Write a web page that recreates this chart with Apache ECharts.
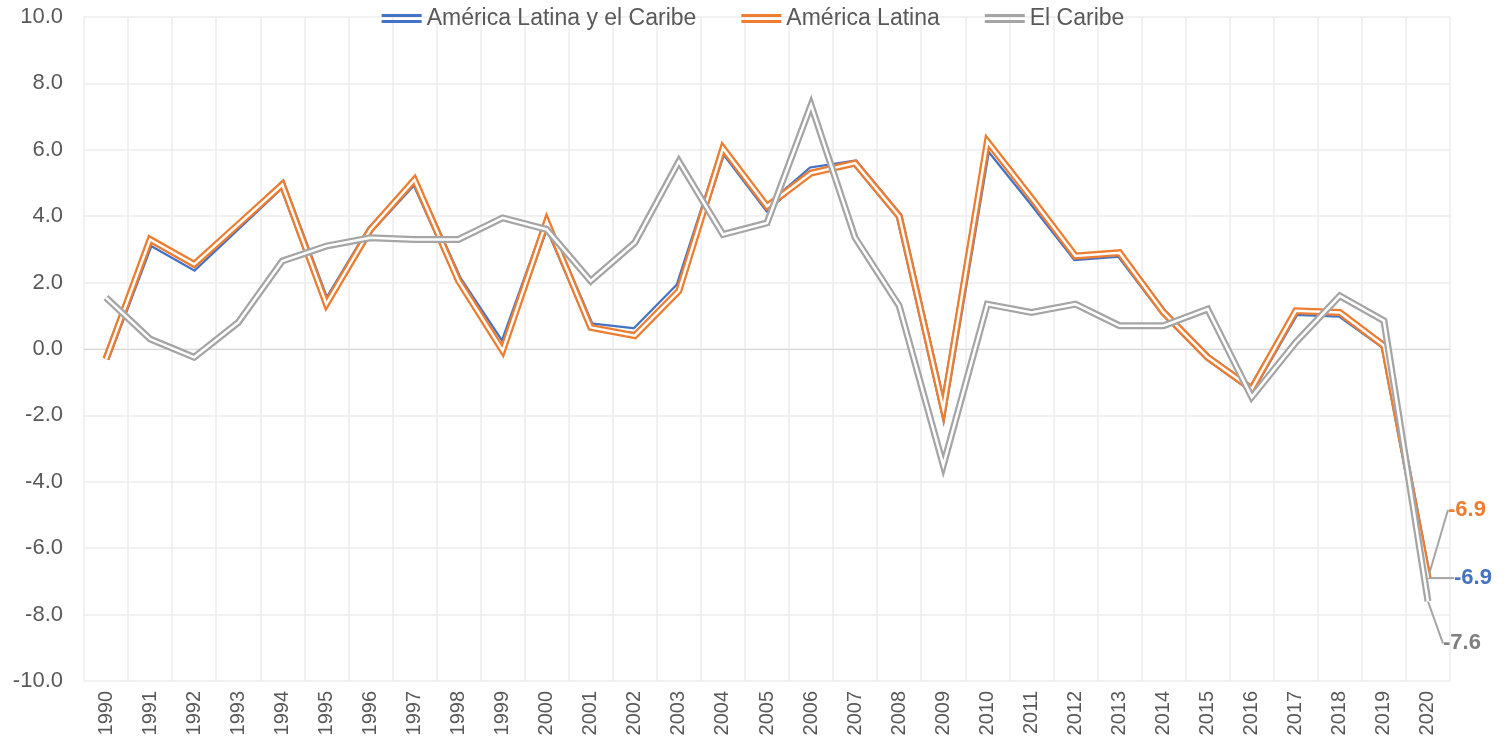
<!DOCTYPE html>
<html>
<head>
<meta charset="utf-8">
<script src="https://cdn.jsdelivr.net/npm/echarts@6/dist/echarts.min.js"></script>
<style>
  html, body { margin: 0; padding: 0; background: #fff; }
  #chart { width: 1506px; height: 749px; }
</style>
</head>
<body>
<div id="chart"></div>
<script>
var years = ['1990','1991','1992','1993','1994','1995','1996','1997','1998','1999',
    '2000','2001','2002','2003','2004','2005','2006','2007','2008','2009',
    '2010','2011','2012','2013','2014','2015','2016','2017','2018','2019','2020'];

var alc = [-0.3, 3.2, 2.45, 3.7, 4.95, 1.4, 3.6, 5.05, 2.1, 0.1,
    3.8, 0.7, 0.55, 1.9, 6.0, 4.25, 5.4, 5.6, 4.0, -1.8,
    6.1, 4.45, 2.75, 2.85, 1.1, -0.25, -1.2, 1.1, 1.05, 0.1, -6.9];
var al = [-0.3, 3.3, 2.55, 3.75, 4.95, 1.35, 3.6, 5.1, 2.05, -0.05,
    3.85, 0.65, 0.4, 1.75, 6.05, 4.3, 5.3, 5.6, 4.0, -1.8,
    6.25, 4.55, 2.8, 2.9, 1.1, -0.25, -1.2, 1.15, 1.1, 0.1, -6.9];
var caribe = [1.55, 0.3, -0.25, 0.8, 2.65, 3.1, 3.35, 3.3, 3.3, 3.95,
    3.6, 2.05, 3.2, 5.65, 3.45, 3.8, 7.35, 3.35, 1.3, -3.5,
    1.35, 1.1, 1.35, 0.7, 0.7, 1.2, -1.45, 0.2, 1.6, 0.85, -7.6];

var NAMES = ['América Latina y el Caribe', 'América Latina', 'El Caribe'];
var COLORS = ['#4472c4', '#ed7d31', '#a5a5a5'];
var FONT = 'Liberation Sans';

function mk_label(color)
{
    return {
        show: true,
        position: 'right',
        formatter: '{c}',
        color: color,
        fontWeight: 'bold',
        fontSize: 22,
        fontFamily: FONT,
        padding: [0, 0, 0, 7]
    };
}

function mk_series(i, data, dx, dy)
{
    var last = data.length - 1;
    var pts = data.map(function (v, k) {
        if (k !== last) {
            return v;
        }
        return {
            value: v,
            label: mk_label(i === 2 ? '#7f7f7f' : COLORS[i]),
            labelLine: { show: true, lineStyle: { color: '#a5a5a5', width: 2 } }
        };
    });
    var outer = {
        name: NAMES[i],
        type: 'line',
        data: pts,
        symbol: 'circle',
        symbolSize: 0,
        showSymbol: true,
        itemStyle: { color: COLORS[i] },
        lineStyle: { color: COLORS[i], width: 7, join: 'miter', miterLimit: 20 },
        label: { show: false },
        labelLayout: { dx: dx, dy: dy },
        z: 2 + i * 2,
        animation: false
    };
    var inner = {
        name: NAMES[i] + '_gap',
        type: 'line',
        data: data,
        symbol: 'none',
        silent: true,
        lineStyle: { color: '#ffffff', width: 2.5, join: 'miter', miterLimit: 20 },
        z: 3 + i * 2,
        animation: false
    };
    return [outer, inner];
}

var chart = echarts.init(document.getElementById('chart'));

var series = [].concat(
    mk_series(0, alc, 14, 0),
    mk_series(1, al, 8, -68),
    mk_series(2, caribe, 3, 42)
);

var option = {
    backgroundColor: '#ffffff',
    textStyle: { fontFamily: FONT },
    legend: {
        data: NAMES,
        top: 2,
        left: 'center',
        itemWidth: 40,
        itemHeight: 9,
        itemGap: 45,
        icon: 'path://M0,0H40V3H0Z M0,6H40V9H0Z',
        textStyle: { color: '#595959', fontSize: 23, fontFamily: FONT }
    },
    grid: { left: 84, right: 56, top: 17, bottom: 68, containLabel: false },
    xAxis: {
        type: 'category',
        data: years,
        boundaryGap: true,
        axisLine: { lineStyle: { color: '#d9d9d9' } },
        axisTick: { show: false },
        axisLabel: {
            rotate: 90,
            color: '#595959',
            fontSize: 20,
            fontFamily: FONT,
            interval: 0,
            margin: 10
        },
        splitLine: { show: true, interval: 0, lineStyle: { color: '#ececec', width: 1.5 } }
    },
    yAxis: {
        type: 'value',
        min: -10,
        max: 10,
        interval: 2,
        axisLine: { show: false },
        axisTick: { show: false },
        axisLabel: {
            color: '#595959',
            fontSize: 22,
            fontFamily: FONT,
            margin: 21,
            formatter: function (v) { return v.toFixed(1); }
        },
        splitLine: { lineStyle: { color: '#ececec', width: 1.5 } }
    },
    series: series
};

chart.setOption(option);
</script>
</body>
</html>
